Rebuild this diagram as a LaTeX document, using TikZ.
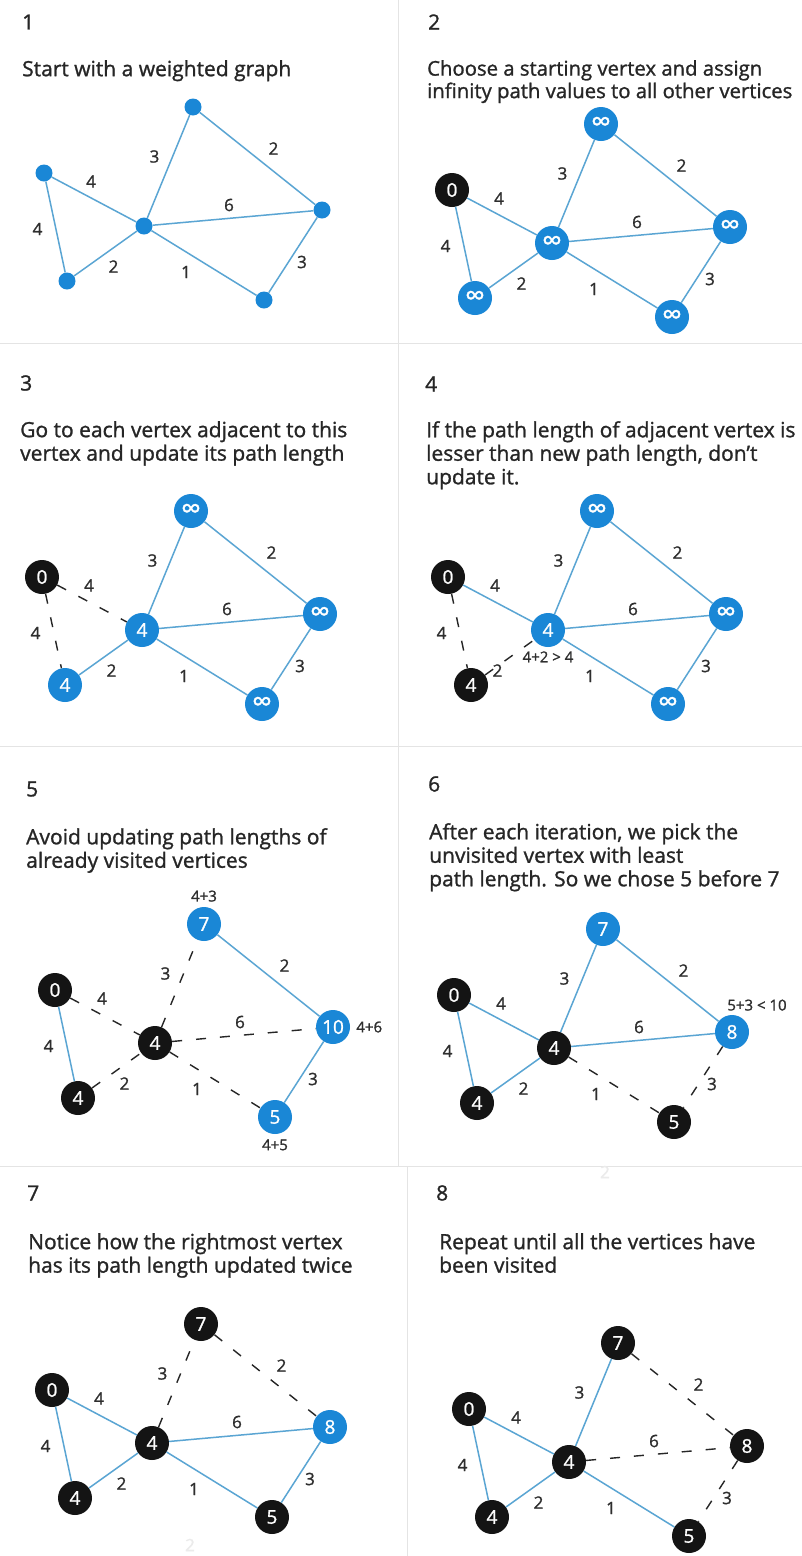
\documentclass[tikz,border=0pt]{standalone}
\usepackage{fontspec}
\setmainfont{Open Sans}[FakeBold=1.2]
\usetikzlibrary{positioning}
\definecolor{vblue}{HTML}{1A87D6}
\definecolor{eblue}{HTML}{5AA5D3}
\definecolor{wgrey}{HTML}{2E2E2E}
\definecolor{rulegrey}{HTML}{E4E4E4}
\newcommand\infsym{{\fontsize{28}{28}\selectfont ∞}}
\tikzset{
    %vertices
    dot/.style={circle, fill=vblue, minimum size=17pt, inner sep=0pt},
    vtx/.style={circle, fill=vblue, text=white, minimum size=34pt,
      inner sep=0pt, font=\fontsize{19}{19}\selectfont},
    done/.style={vtx, fill=black!92},
    %edges
    edge/.style={draw=eblue, line width=1.5pt},
    skip/.style={draw=black!85, line width=1.4pt, dash pattern=on 10pt off 14pt},
    wt/.style={text=wgrey, inner sep=0pt, font=\fontsize{17}{17}\selectfont},
    sum/.style={text=wgrey, inner sep=0pt, font=\fontsize{15}{15}\selectfont},
    %texts
    stepno/.style={anchor=west, inner sep=0pt, text=black!85,
      font=\fontsize{21}{21}\selectfont},
    caption/.style={anchor=north west, align=left, inner sep=0pt,
      text=black!85, font=\fontsize{21}{23.5}\selectfont},
    divider/.style={draw=rulegrey, line width=1pt},
    %weight labels, shifted from the middle of their edge
    wzc/.style={shift={(-3,-18)}},
    wzl/.style={shift={(-18,2)}},
    wlc/.style={shift={(8,13)}},
    wct/.style={shift={(-14,-10)}},
    wtr/.style={shift={(16,-10)}},
    wcr/.style={shift={(-4,-13)}},
    wcb/.style={shift={(-18,9)}},
    wrb/.style={shift={(9,7)}}
}

\begin{document}
\begin{tikzpicture}[x=1pt, y=-1pt]
\useasboundingbox[fill=white] (0,0) rectangle (802,1556);

% panel frames
\draw[divider] (0,343) -- (802,343);
\draw[divider] (0,746) -- (802,746);
\draw[divider] (0,1166) -- (802,1166);
\draw[divider] (398,0) -- (398,1166);
\draw[divider] (407,1166) -- (407,1556);

% step 1
\node[stepno] (n1) at (22,22) {1};
\node[caption] (c1) at (22,60) {Start with a weighted graph};
\begin{scope}[shift={(144,226)}]
\node[dot] (p1z) at (-100,-53) {};
\node[dot] (p1l) at (-77,55) {};
\node[dot] (p1c) at (0,0) {};
\node[dot] (p1t) at (49,-119) {};
\node[dot] (p1r) at (178,-16) {};
\node[dot] (p1b) at (120,74) {};
\draw[edge] (p1z) -- node[wt,wzc] {4} (p1c);
\draw[edge] (p1z) -- node[wt,wzl] {4} (p1l);
\draw[edge] (p1l) -- node[wt,wlc] {2} (p1c);
\draw[edge] (p1c) -- node[wt,wct] {3} (p1t);
\draw[edge] (p1t) -- node[wt,wtr] {2} (p1r);
\draw[edge] (p1c) -- node[wt,wcr] {6} (p1r);
\draw[edge] (p1c) -- node[wt,wcb] {1} (p1b);
\draw[edge] (p1r) -- node[wt,wrb] {3} (p1b);
\end{scope}

% step 2
\node[stepno] (n2) at (428,22) {2};
\node[caption, font=\fontsize{20.3}{22.5}\selectfont] (c2) at (427,60)
  {Choose a starting vertex and assign\\
  infinity path values to all other vertices};
\begin{scope}[shift={(552,243)}]
\node[done] (p2z) at (-100,-53) {0};
\node[vtx] (p2l) at (-77,55) {\infsym};
\node[vtx] (p2c) at (0,0) {\infsym};
\node[vtx] (p2t) at (49,-119) {\infsym};
\node[vtx] (p2r) at (178,-16) {\infsym};
\node[vtx] (p2b) at (120,74) {\infsym};
\draw[edge] (p2z) -- node[wt,wzc] {4} (p2c);
\draw[edge] (p2z) -- node[wt,wzl] {4} (p2l);
\draw[edge] (p2l) -- node[wt,wlc] {2} (p2c);
\draw[edge] (p2c) -- node[wt,wct] {3} (p2t);
\draw[edge] (p2t) -- node[wt,wtr] {2} (p2r);
\draw[edge] (p2c) -- node[wt,wcr] {6} (p2r);
\draw[edge] (p2c) -- node[wt,wcb] {1} (p2b);
\draw[edge] (p2r) -- node[wt,wrb] {3} (p2b);
\end{scope}

% step 3
\node[stepno] (n3) at (20,383) {3};
\node[caption] (c3) at (20,421) {Go to each vertex adjacent to this\\
  vertex and update its path length};
\begin{scope}[shift={(142,630)}]
\node[done] (p3z) at (-100,-53) {0};
\node[vtx] (p3l) at (-77,55) {4};
\node[vtx] (p3c) at (0,0) {4};
\node[vtx] (p3t) at (49,-119) {\infsym};
\node[vtx] (p3r) at (178,-16) {\infsym};
\node[vtx] (p3b) at (120,74) {\infsym};
\draw[skip] (p3z) -- node[wt,wzc] {4} (p3c);
\draw[skip] (p3z) -- node[wt,wzl] {4} (p3l);
\draw[edge] (p3l) -- node[wt,wlc] {2} (p3c);
\draw[edge] (p3c) -- node[wt,wct] {3} (p3t);
\draw[edge] (p3t) -- node[wt,wtr] {2} (p3r);
\draw[edge] (p3c) -- node[wt,wcr] {6} (p3r);
\draw[edge] (p3c) -- node[wt,wcb] {1} (p3b);
\draw[edge] (p3r) -- node[wt,wrb] {3} (p3b);
\end{scope}

% step 4
\node[stepno] (n4) at (425,384) {4};
\node[caption] (c4) at (426,421) {If the path length of adjacent vertex is\\
  lesser than new path length, don’t\\ update it.};
\begin{scope}[shift={(548,630)}]
\node[done] (p4z) at (-100,-53) {0};
\node[done] (p4l) at (-77,55) {4};
\node[vtx] (p4c) at (0,0) {4};
\node[vtx] (p4t) at (49,-119) {\infsym};
\node[vtx] (p4r) at (178,-16) {\infsym};
\node[vtx] (p4b) at (120,74) {\infsym};
\draw[edge] (p4z) -- node[wt,wzc] {4} (p4c);
\draw[skip] (p4z) -- node[wt,wzl] {4} (p4l);
\draw[skip] (p4l) -- node[wt,shift={(-12,13)}] {2} (p4c);
\draw[edge] (p4c) -- node[wt,wct] {3} (p4t);
\draw[edge] (p4t) -- node[wt,wtr] {2} (p4r);
\draw[edge] (p4c) -- node[wt,wcr] {6} (p4r);
\draw[edge] (p4c) -- node[wt,wcb] {1} (p4b);
\draw[edge] (p4r) -- node[wt,wrb] {3} (p4b);
\node[sum, below=4pt of p4c] (s4) {4+2 > 4};
\end{scope}

% step 5
\node[stepno] (n5) at (26,789) {5};
\node[caption] (c5) at (26,828) {Avoid updating path lengths of\\
  already visited vertices};
\begin{scope}[shift={(155,1043)}]
\node[done] (p5z) at (-100,-53) {0};
\node[done] (p5l) at (-77,55) {4};
\node[done] (p5c) at (0,0) {4};
\node[vtx] (p5t) at (49,-119) {7};
\node[vtx] (p5r) at (178,-16) {10};
\node[vtx] (p5b) at (120,74) {5};
\draw[skip] (p5z) -- node[wt,wzc] {4} (p5c);
\draw[edge] (p5z) -- node[wt,wzl] {4} (p5l);
\draw[skip] (p5l) -- node[wt,wlc] {2} (p5c);
\draw[skip] (p5c) -- node[wt,wct] {3} (p5t);
\draw[edge] (p5t) -- node[wt,wtr] {2} (p5r);
\draw[skip] (p5c) -- node[wt,wcr] {6} (p5r);
\draw[skip] (p5c) -- node[wt,wcb] {1} (p5b);
\draw[edge] (p5r) -- node[wt,wrb] {3} (p5b);
\node[sum, above=5pt of p5t] (s5t) {4+3};
\node[sum, right=6pt of p5r] (s5r) {4+6};
\node[sum, below=5pt of p5b] (s5b) {4+5};
\end{scope}

% step 6
\node[stepno] (n6) at (428,784) {6};
\node[caption] (c6) at (429,823) {After each iteration, we pick the\\
  unvisited vertex with least\\ path length. So we chose 5 before 7};
\begin{scope}[shift={(554,1048)}]
\node[done] (p6z) at (-100,-53) {0};
\node[done] (p6l) at (-77,55) {4};
\node[done] (p6c) at (0,0) {4};
\node[vtx] (p6t) at (49,-119) {7};
\node[vtx] (p6r) at (178,-16) {8};
\node[done] (p6b) at (120,74) {5};
\draw[edge] (p6z) -- node[wt,wzc] {4} (p6c);
\draw[edge] (p6z) -- node[wt,wzl] {4} (p6l);
\draw[edge] (p6l) -- node[wt,wlc] {2} (p6c);
\draw[edge] (p6c) -- node[wt,wct] {3} (p6t);
\draw[edge] (p6t) -- node[wt,wtr] {2} (p6r);
\draw[edge] (p6c) -- node[wt,wcr] {6} (p6r);
\draw[skip] (p6c) -- node[wt,wcb] {1} (p6b);
\draw[skip] (p6r) -- node[wt,wrb] {3} (p6b);
\node[sum, above=4pt of p6r, xshift=25pt] (s6) {5+3 < 10};
\end{scope}

% step 7
\node[stepno] (n7) at (27,1193) {7};
\node[caption] (c7) at (28,1233) {Notice how the rightmost vertex\\
  has its path length updated twice};
\begin{scope}[shift={(152,1443)}]
\node[done] (p7z) at (-100,-53) {0};
\node[done] (p7l) at (-77,55) {4};
\node[done] (p7c) at (0,0) {4};
\node[done] (p7t) at (49,-119) {7};
\node[vtx] (p7r) at (178,-16) {8};
\node[done] (p7b) at (120,74) {5};
\draw[edge] (p7z) -- node[wt,wzc] {4} (p7c);
\draw[edge] (p7z) -- node[wt,wzl] {4} (p7l);
\draw[edge] (p7l) -- node[wt,wlc] {2} (p7c);
\draw[skip] (p7c) -- node[wt,wct] {3} (p7t);
\draw[skip] (p7t) -- node[wt,wtr] {2} (p7r);
\draw[edge] (p7c) -- node[wt,wcr] {6} (p7r);
\draw[edge] (p7c) -- node[wt,wcb] {1} (p7b);
\draw[edge] (p7r) -- node[wt,wrb] {3} (p7b);
\end{scope}
\node[wt, text=black!8] (g7) at (190,1545) {2};

% step 8
\node[stepno] (n8) at (436,1193) {8};
\node[caption] (c8) at (439,1233) {Repeat until all the vertices have\\
  been visited};
\begin{scope}[shift={(569,1462)}]
\node[done] (p8z) at (-100,-53) {0};
\node[done] (p8l) at (-77,55) {4};
\node[done] (p8c) at (0,0) {4};
\node[done] (p8t) at (49,-119) {7};
\node[done] (p8r) at (178,-16) {8};
\node[done] (p8b) at (120,74) {5};
\draw[edge] (p8z) -- node[wt,wzc] {4} (p8c);
\draw[edge] (p8z) -- node[wt,wzl] {4} (p8l);
\draw[edge] (p8l) -- node[wt,wlc] {2} (p8c);
\draw[edge] (p8c) -- node[wt,wct] {3} (p8t);
\draw[skip] (p8t) -- node[wt,wtr] {2} (p8r);
\draw[skip] (p8c) -- node[wt,wcr] {6} (p8r);
\draw[edge] (p8c) -- node[wt,wcb] {1} (p8b);
\draw[skip] (p8r) -- node[wt,wrb] {3} (p8b);
\end{scope}
\node[wt, text=black!8] (g8) at (605,1172) {2};
\end{tikzpicture}
\end{document}
